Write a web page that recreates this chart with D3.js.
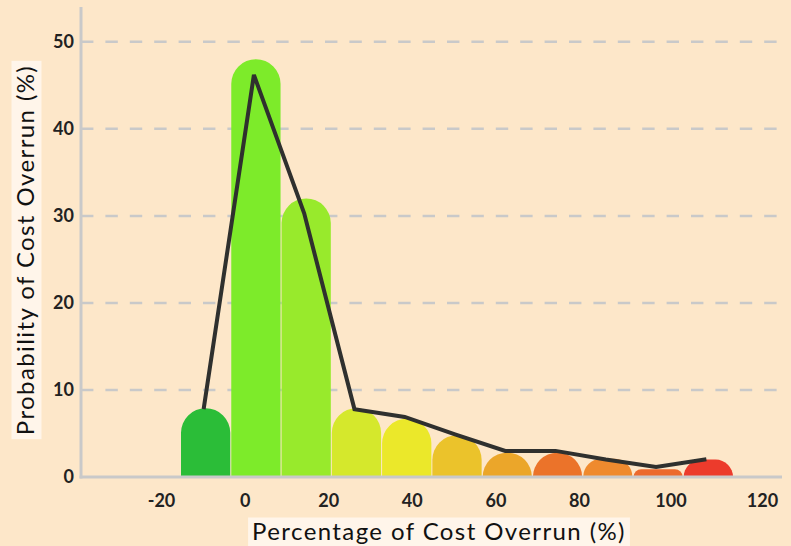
<!DOCTYPE html>
<html>
<head>
<meta charset="utf-8">
<script src="https://cdn.jsdelivr.net/npm/d3@7"></script>
<style>
  body { margin: 0; background: #fde7c9; }
  svg { display: block; }
  .tick text { font-family: Lato, sans-serif; font-weight: 700; font-size: 18px; fill: #222; }
  .title { font-family: Lato, sans-serif; font-size: 24px; letter-spacing: 1.4px; fill: #111; }
</style>
</head>
<body>
<div id="chart"></div>
<script>
// bins of cost overrun, bar heights, line values, colours
var bins = ["-15..-3", "-3..9", "9..21", "21..33", "33..45", "45..57", "57..69", "69..81", "81..93", "93..105", "105..117"];
var barValues = [7.9, 48, 32, 7.9, 6.7, 4.8, 2.8, 2.8, 2.1, 0.9, 2.0];
var lineValues = [7.8, 46.2, 30.3, 7.8, 6.9, 4.9, 3.0, 3.0, 2.0, 1.15, 2.05];
var barColors = ["#2bbd38", "#7deb2a", "#98ea2c", "#d5e82c", "#ebe82a", "#ebc32b", "#eba62a", "#eb732a", "#ef8a2e", "#ec6a2e", "#ec3b2c"];
var xTicks = [-20, 0, 20, 40, 60, 80, 100, 120];
var yTicks = [0, 10, 20, 30, 40, 50];

var width = 791;
var height = 546;
var plotLeft = 81, plotRight = 782, plotTop = 7, plotBottom = 477;

var svg = d3.select("#chart").append("svg")
  .attr("width", width)
  .attr("height", height);

svg.append("rect")
  .attr("width", width).attr("height", height)
  .attr("fill", "#fde7c9");

/* Scales */
var yScale = d3.scaleLinear().domain([0, 54]).range([plotBottom, plotTop]);

var band = d3.scaleBand().domain(bins).range([181, 733]).paddingInner(0.02);

// tick positions of the printed axis stretch a little to the right
var xScale = d3.scaleLinear().domain([-20, 80, 120]).range([161, 579, 762]);

/* Grid */
svg.append("g")
  .selectAll("line")
  .data(yTicks.filter(d => d > 0)).enter()
  .append("line")
  .attr("x1", plotLeft).attr("x2", 780)
  .attr("y1", d => yScale(d)).attr("y2", d => yScale(d))
  .attr("stroke", "#c9c9c9")
  .attr("stroke-width", 2.5)
  .attr("stroke-dasharray", "12.4,12");

/* Bars with rounded tops */
function barPath(x, w, y0, y1) {
  var h = y0 - y1;
  var r = Math.min(w / 2, h);
  return "M" + x + "," + y0 +
    "V" + (y1 + r) +
    "A" + r + "," + r + " 0 0 1 " + (x + r) + "," + y1 +
    "H" + (x + w - r) +
    "A" + r + "," + r + " 0 0 1 " + (x + w) + "," + (y1 + r) +
    "V" + y0 + "Z";
}

svg.append("g")
  .selectAll("path")
  .data(bins).enter()
  .append("path")
  .attr("d", (d, i) => barPath(band(d), band.bandwidth(), yScale(0), yScale(barValues[i])))
  .attr("fill", (d, i) => barColors[i]);

/* Axes */
svg.append("line")
  .attr("x1", plotLeft).attr("x2", plotLeft)
  .attr("y1", plotTop).attr("y2", plotBottom + 1.5)
  .attr("stroke", "#c9c9c9").attr("stroke-width", 3);

svg.append("line")
  .attr("x1", plotLeft - 1.5).attr("x2", plotRight)
  .attr("y1", plotBottom).attr("y2", plotBottom)
  .attr("stroke", "#c9c9c9").attr("stroke-width", 3);

var yAxis = svg.append("g")
  .attr("transform", `translate(${plotLeft}, 0)`)
  .call(d3.axisLeft(yScale).tickValues(yTicks).tickSize(0).tickPadding(7));
yAxis.select(".domain").remove();

var xAxis = svg.append("g")
  .attr("transform", `translate(0, ${plotBottom})`)
  .call(d3.axisBottom(xScale).tickValues(xTicks).tickSize(0).tickPadding(17)
    .tickFormat(d => String(d)));
xAxis.select(".domain").remove();

/* Line */
var line = d3.line()
  .x((d, i) => band(bins[i]) + band.bandwidth() / 2 - 2)
  .y(d => yScale(d));

svg.append("path")
  .attr("d", line(lineValues))
  .attr("fill", "none")
  .attr("stroke", "#2f302e")
  .attr("stroke-width", 4)
  .attr("stroke-linejoin", "miter");

/* Axis titles with light boxes */
function boxedTitle(txt, x, y, rot) {
  var g = svg.append("g").attr("transform", `translate(${x}, ${y}) rotate(${rot})`);
  var rect = g.append("rect").attr("fill", "#fff5ea");
  var t = g.append("text")
    .attr("class", "title")
    .attr("text-anchor", "middle")
    .attr("dy", "0.35em")
    .text(txt);
  var bb = t.node().getBBox();
  rect.attr("x", bb.x - 4).attr("y", -14.5)
    .attr("width", bb.width + 8).attr("height", 30);
}

boxedTitle("Percentage of Cost Overrun (%)", 439, 532, 0);
boxedTitle("Probability of Cost Overrun (%)", 26, 250, -90);
</script>
</body>
</html>
